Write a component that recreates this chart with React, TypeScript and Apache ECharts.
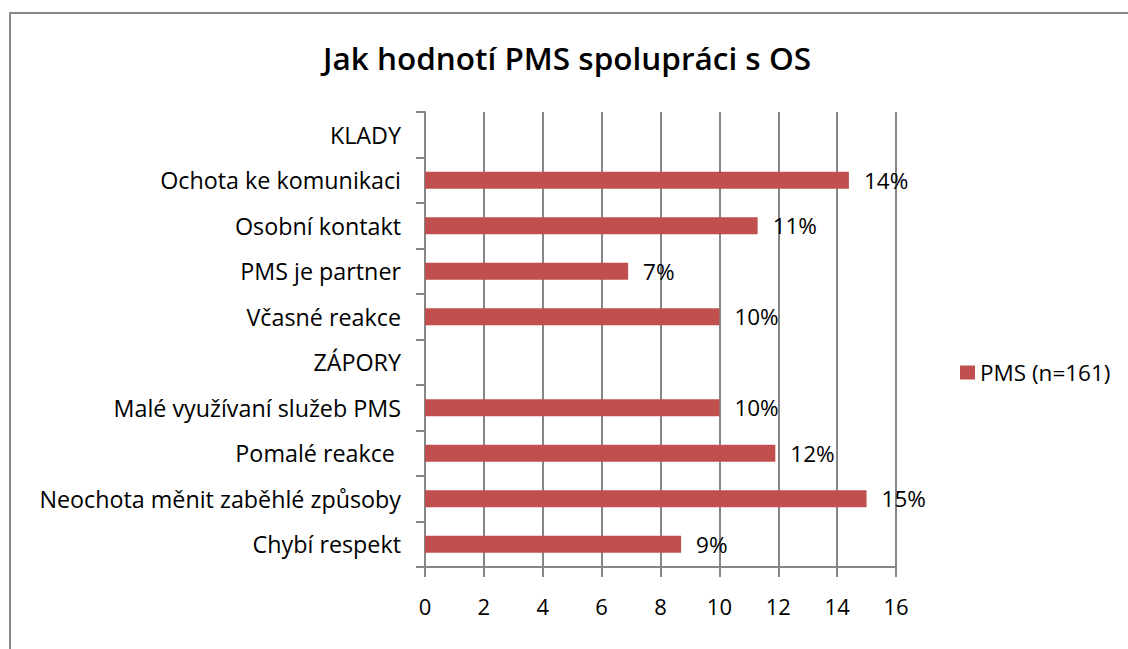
import React, { useEffect, useRef } from "react";
import * as echarts from "echarts";

const categories = [
  "KLADY",
  "Ochota ke komunikaci",
  "Osobní kontakt",
  "PMS je partner",
  "Včasné reakce",
  "ZÁPORY",
  "Malé využívaní služeb PMS",
  "Pomalé reakce ",
  "Neochota měnit zaběhlé způsoby",
  "Chybí respekt",
];
const values: (number | null)[] = [null, 14.4, 11.3, 6.9, 10.0, null, 10.0, 11.9, 15.0, 8.7];
const valueLabels = ["", "14%", "11%", "7%", "10%", "", "10%", "12%", "15%", "9%"];
const xTicks = { min: 0, max: 16, interval: 2 };
const seriesName = "PMS (n=161)";
const title = "Jak hodnotí PMS spolupráci s OS";

const FONT = "'Open Sans', sans-serif";

export default function App() {
  const ref = useRef<HTMLDivElement>(null);
  useEffect(() => {
    document.body.style.margin = "0";
    const chart = echarts.init(ref.current!, null, { renderer: "svg" });
    chart.setOption({
      animation: false,
      backgroundColor: "#ffffff",
      title: {
        text: title,
        left: 562,
        textAlign: "center",
        top: 36,
        textStyle: { fontFamily: FONT, fontSize: 31.5, fontWeight: 600, color: "#000" },
      },
      legend: {
        data: [seriesName],
        left: 955,
        top: 356,
        itemWidth: 15,
        itemHeight: 14,
        itemGap: 6,
        icon: "rect",
        textStyle: { fontFamily: FONT, fontSize: 22.5, color: "#000" },
      },
      graphic: [
        {
          type: "rect",
          shape: { x: 10, y: 13, width: 1300, height: 800 },
          style: { fill: "none", stroke: "#888888", lineWidth: 2 },
          silent: true,
        },
      ],
      grid: { left: 425, right: 232, top: 112, bottom: 82 },
      xAxis: {
        type: "value",
        min: xTicks.min,
        max: xTicks.max,
        interval: xTicks.interval,
        axisLine: { show: true, lineStyle: { color: "#868686", width: 2 } },
        axisTick: { show: true, length: 10, lineStyle: { color: "#868686", width: 2 } },
        axisLabel: { fontFamily: FONT, fontSize: 22, color: "#000", margin: 28 },
        splitLine: { show: true, lineStyle: { color: "#868686", width: 2 } },
      },
      yAxis: {
        type: "category",
        data: categories,
        inverse: true,
        axisLine: { show: true, lineStyle: { color: "#868686", width: 2 } },
        axisTick: { show: true, length: 9, lineStyle: { color: "#868686", width: 2 } },
        axisLabel: { fontFamily: FONT, fontSize: 23.3, color: "#000", margin: 24 },
        splitLine: { show: false },
      },
      series: [
        {
          name: seriesName,
          type: "bar",
          data: values,
          barWidth: 17,
          itemStyle: { color: "#C0504D" },
          label: {
            show: true,
            position: "right",
            distance: 15,
            fontFamily: FONT,
            fontSize: 22.5,
            color: "#000",
            formatter: (p: any) => valueLabels[p.dataIndex],
          },
        },
      ],
    });
    return () => chart.dispose();
  }, []);
  return <div ref={ref} style={{ width: 1128, height: 649, position: "absolute", left: 0, top: 0 }} />;
}
